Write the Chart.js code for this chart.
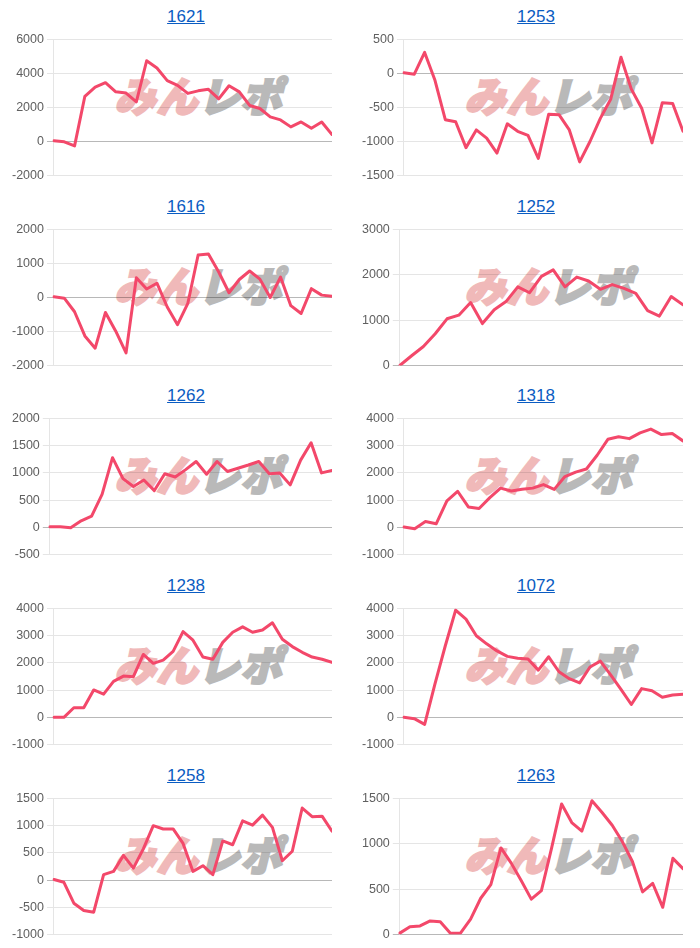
<!DOCTYPE html>
<html>
<head>
<meta charset="utf-8">
<script src="https://cdn.jsdelivr.net/npm/chart.js@4.4.0/dist/chart.umd.min.js"></script>
<style>
  html, body { margin: 0; padding: 0; background: #fff; }
  body { width: 700px; height: 948px; position: relative; overflow: hidden; font-family: Arial, "Liberation Sans", Helvetica, sans-serif; }
  .title { position: absolute; width: 200px; text-align: center; font-size: 17px; line-height: 20px; }
  .title a { color: #0a5cc2; text-decoration: underline; }
  .wm { position: absolute; font-family: "Noto Sans CJK JP", sans-serif; font-weight: 900; font-size: 41px; line-height: 40px; white-space: nowrap; transform: skewX(-14deg); letter-spacing: 1px; }
  .wm .p { color: #f0b9b9; -webkit-text-stroke: 2.5px #f0b9b9; }
  .wm .g { color: #b9b9b9; -webkit-text-stroke: 2.5px #b9b9b9; }
  canvas { position: absolute; }
</style>
</head>
<body>
<script>
// ---- data ----
const titles = ['1621', '1253', '1616', '1252', '1262', '1318', '1238', '1072', '1258', '1263'];

const s1621 = [50, -20, -260, 2660, 3200, 3460, 2920, 2850, 2330, 4750, 4320, 3580, 3300, 2830, 2980, 3070, 2510, 3280, 2920, 2120, 1940, 1450, 1270, 860, 1150, 780, 1150, 410];
const s1253 = [10, -10, 310, -100, -680, -710, -1090, -830, -950, -1170, -740, -850, -910, -1250, -600, -605, -830, -1300, -1000, -660, -380, 240, -230, -510, -1020, -430, -440, -850];
const s1616 = [20, -20, -420, -1130, -1490, -440, -990, -1630, 580, 250, 420, -280, -800, -170, 1250, 1280, 750, 140, 530, 780, 540, 0, 600, -240, -470, 260, 70, 40];
const s1252 = [0, 215, 420, 700, 1030, 1110, 1390, 925, 1230, 1410, 1735, 1605, 1965, 2110, 1735, 1950, 1865, 1680, 1785, 1700, 1590, 1210, 1090, 1520, 1340];
const s1262 = [10, 10, -10, 120, 205, 605, 1280, 895, 750, 870, 675, 985, 925, 1060, 1210, 975, 1210, 1025, 1085, 1145, 1210, 985, 1000, 780, 1235, 1555, 1000, 1045];
const s1318 = [10, -50, 210, 130, 975, 1325, 750, 690, 1090, 1440, 1335, 1395, 1440, 1570, 1395, 1865, 2030, 2145, 2650, 3235, 3330, 3260, 3470, 3610, 3410, 3445, 3175];
const s1238 = [0, 0, 350, 350, 1005, 850, 1320, 1515, 1495, 2310, 1985, 2100, 2425, 3150, 2835, 2215, 2135, 2755, 3125, 3325, 3125, 3210, 3475, 2870, 2600, 2390, 2215, 2135, 2020];
const s1072 = [0, -50, -260, 1230, 2630, 3940, 3610, 3000, 2700, 2440, 2240, 2170, 2145, 1735, 2225, 1675, 1420, 1265, 1850, 2065, 1560, 1030, 470, 1055, 975, 740, 820, 845];
const s1258 = [10, -40, -425, -560, -590, 100, 160, 455, 220, 575, 1000, 940, 940, 675, 160, 265, 100, 720, 650, 1090, 1010, 1195, 970, 355, 530, 1325, 1165, 1175, 900];
const s1263 = [15, 85, 95, 150, 140, 15, 15, 170, 400, 550, 955, 790, 595, 390, 485, 950, 1440, 1235, 1140, 1475, 1345, 1205, 1025, 805, 470, 565, 300, 840, 725];

// y-axis tick ranges (tick labels)
const yMins  = [-2000, -1500, -2000, 0,    -500, -1000, -1000, -1000, -1000, 0];
const yMaxs  = [6000,  500,   2000,  3000, 2000, 4000,  4000,  4000,  1500,  1500];
const ySteps = [2000,  500,   1000,  1000, 500,  1000,  1000,  1000,  500,   500];

const seriesList = [s1621, s1253, s1616, s1252, s1262, s1318, s1238, s1072, s1258, s1263];

// ---- layout / style ----
const LINE = 'rgb(243, 72, 106)';
const ROW_PITCH = 189.7;
const GRID_TOP0 = 36;
const PLOT_H = 142.5;

seriesList.forEach((series, i) => {
  const col = i % 2, row = Math.floor(i / 2);
  const colX = col * 350;
  const gridTop = GRID_TOP0 + row * ROW_PITCH;

  // title link
  const t = document.createElement('div');
  t.className = 'title';
  t.style.left = (colX + 186 - 100) + 'px';
  t.style.top = (gridTop - 29) + 'px';
  const a = document.createElement('a');
  a.href = '#';
  a.textContent = titles[i];
  t.appendChild(a);
  document.body.appendChild(t);

  // watermark
  const wm = document.createElement('div');
  wm.className = 'wm';
  wm.style.left = (colX + 119) + 'px';
  wm.style.top = (gridTop + 38) + 'px';
  wm.innerHTML = '<span class="p">みん</span><span class="g">レポ</span>';
  document.body.appendChild(wm);

  // canvas
  const cv = document.createElement('canvas');
  const cw = col === 0 ? 323 : 324;
  const ch = Math.round(PLOT_H + 14);
  cv.width = cw; cv.height = ch;
  cv.style.width = cw + 'px'; cv.style.height = ch + 'px';
  cv.style.left = (colX + 9) + 'px';
  cv.style.top = (gridTop - 7) + 'px';
  document.body.appendChild(cv);

  const labels = series.map((_, k) => String(k + 1));

  new Chart(cv.getContext('2d'), {
    type: 'line',
    data: {
      labels: labels,
      datasets: [{
        data: series,
        borderColor: LINE,
        backgroundColor: LINE,
        borderWidth: 3,
        pointRadius: 0,
        pointHoverRadius: 0,
        tension: 0,
        fill: false,
        borderJoinStyle: 'round',
        borderCapStyle: 'round'
      }]
    },
    options: {
      responsive: false,
      maintainAspectRatio: false,
      animation: false,
      devicePixelRatio: 1,
      layout: { padding: 0 },
      plugins: { legend: { display: false }, tooltip: { enabled: false }, title: { display: false } },
      scales: {
        x: { display: false },
        y: {
          min: yMins[i],
          max: yMaxs[i],
          ticks: {
            stepSize: ySteps[i],
            color: '#606060',
            font: { size: 12.5 },
            padding: 3,
            callback: (v) => String(v)
          },
          grid: {
            color: (ctx) => (ctx.tick && ctx.tick.value === 0) ? 'rgba(0,0,0,0.28)' : 'rgba(0,0,0,0.1)',
            tickLength: 7
          },
          border: { color: 'rgba(0,0,0,0.1)' }
        }
      }
    }
  });
});
</script>
</body>
</html>
